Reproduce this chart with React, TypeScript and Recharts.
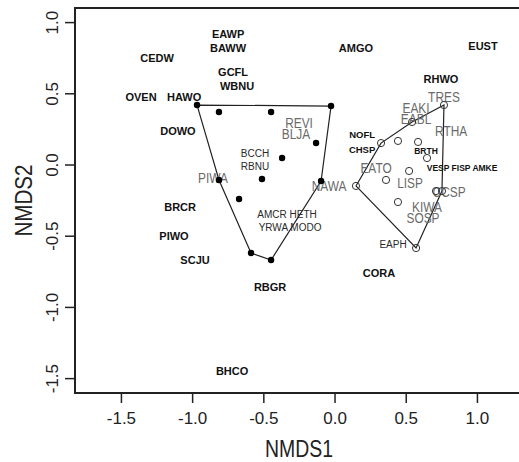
import React from 'react';
import { ScatterChart, Scatter, XAxis, YAxis, ReferenceArea } from 'recharts';

// Axis ticks
const xTicks = [-1.5, -1.0, -0.5, 0.0, 0.5, 1.0];
const yTicks = [-1.5, -1.0, -0.5, 0.0, 0.5, 1.0];
const xDomain = [-1.826, 1.32];
const yDomain = [-1.601, 1.1025];

// Filled points (group 1)
const filledX = [-0.969, -0.815, -0.449, -0.028, -0.133, -0.372, -0.513, -0.815, -0.098, -0.674, -0.590, -0.449];
const filledY = [0.421, 0.372, 0.372, 0.414, 0.154, 0.049, -0.098, -0.105, -0.112, -0.239, -0.618, -0.667];

// Open points (group 2)
const openX = [0.765, 0.541, 0.323, 0.442, 0.583, 0.646, 0.520, 0.358, 0.147, 0.709, 0.751, 0.442, 0.569];
const openY = [0.421, 0.302, 0.154, 0.169, 0.162, 0.049, -0.042, -0.105, -0.147, -0.183, -0.183, -0.260, -0.583];

// Convex hulls
const hullLeftX = [-0.969, -0.028, -0.098, -0.449, -0.590, -0.815, -0.969];
const hullLeftY = [0.421, 0.414, -0.112, -0.667, -0.618, -0.105, 0.421];
const hullRightX = [0.147, 0.323, 0.541, 0.765, 0.751, 0.569, 0.147];
const hullRightY = [-0.147, 0.154, 0.302, 0.421, -0.183, -0.583, -0.147];

// Species labels: bold black, large
const boldNames = ['EAWP', 'BAWW', 'CEDW', 'GCFL', 'WBNU', 'OVEN', 'HAWO', 'DOWO', 'BRCR', 'PIWO', 'SCJU', 'BHCO', 'RBGR', 'CORA', 'AMGO', 'EUST', 'RHWO'];
const boldX = [-0.751, -0.751, -1.250, -0.716, -0.688, -1.362, -1.060, -1.103, -1.088, -1.131, -0.983, -0.723, -0.456, 0.309, 0.147, 1.039, 0.744];
const boldY = [0.920, 0.822, 0.751, 0.653, 0.555, 0.478, 0.478, 0.239, -0.295, -0.499, -0.667, -1.447, -0.857, -0.758, 0.822, 0.836, 0.604];

// Species labels: bold black, medium
const medNames = ['NOFL', 'CHSP'];
const medX = [0.190, 0.190];
const medY = [0.211, 0.112];

// Species labels: bold black, small
const smallNames = ['BRTH', 'VESP FISP AMKE'];
const smallX = [0.639, 0.892];
const smallY = [0.098, -0.021];

// Species labels: regular dark
const plainNames = ['BCCH', 'RBNU', 'AMCR HETH', 'YRWA MODO', 'EAPH'];
const plainX = [-0.562, -0.562, -0.337, -0.316, 0.407];
const plainY = [0.084, -0.014, -0.351, -0.442, -0.555];

// Species labels: grey
const greyNames = ['TRES', 'EAKI', 'EABL', 'RTHA', 'EATO', 'LISP', 'CCSP', 'KIWA', 'SOSP', 'NAWA', 'REVI', 'BLJA', 'PIWA'];
const greyX = [0.765, 0.569, 0.569, 0.815, 0.288, 0.527, 0.801, 0.646, 0.618, -0.042, -0.253, -0.274, -0.857];
const greyY = [0.478, 0.400, 0.323, 0.239, -0.021, -0.126, -0.190, -0.295, -0.372, -0.147, 0.295, 0.218, -0.091];

const pts = (xs: number[], ys: number[]) => xs.map((x, i) => ({ x, y: ys[i] }));
const lbls = (names: string[], xs: number[], ys: number[]) => names.map((name, i) => ({ x: xs[i], y: ys[i], name }));

const FONT = '"Liberation Sans", Arial, sans-serif';

const makeText = (size: number, weight: string, color: string, scaleX = 1) => (p: any) => (
  <text
    transform={`translate(${p.cx},${p.cy}) scale(${scaleX},1)`}
    x={0}
    y={0}
    textAnchor="middle"
    dominantBaseline="central"
    fontFamily={FONT}
    fontSize={size}
    fontWeight={weight}
    fill={color}
  >
    {p.payload.name}
  </text>
);

const Empty = () => <g />;

const XTick = (p: any) => (
  <text x={p.x} y={p.y + 19} textAnchor="middle" fontFamily={FONT} fontSize={17} fill="#222">
    {Number(p.payload.value).toFixed(1)}
  </text>
);

const YTick = (p: any) => (
  <text
    x={p.x - 5}
    y={p.y}
    transform={`rotate(-90, ${p.x - 5}, ${p.y})`}
    textAnchor="middle"
    fontFamily={FONT}
    fontSize={17}
    fill="#222"
  >
    {Number(p.payload.value).toFixed(1)}
  </text>
);

const XTitle = (p: any) => {
  const vb = p.viewBox;
  return (
    <text x={vb.x + vb.width / 2} y={457} textAnchor="middle" fontFamily={FONT} fontSize={23} fill="#222" textLength={68} lengthAdjust="spacingAndGlyphs">
      NMDS1
    </text>
  );
};

const YTitle = (p: any) => {
  const vb = p.viewBox;
  const cy = vb.y + vb.height / 2;
  return (
    <text x={32} y={cy} transform={`rotate(-90, 32, ${cy})`} textAnchor="middle" fontFamily={FONT} fontSize={24} fill="#222" textLength={72} lengthAdjust="spacingAndGlyphs">
      NMDS2
    </text>
  );
};

export default function App() {
  return (
    <div style={{ position: 'absolute', left: 0, top: 0, background: '#fff' }}>
      <ScatterChart width={530} height={462} margin={{ top: 8, right: 7, bottom: 0, left: 0 }}>
        <XAxis
          type="number"
          dataKey="x"
          domain={xDomain}
          ticks={xTicks}
          allowDataOverflow
          axisLine={false}
          tickLine={{ stroke: '#222', strokeWidth: 1.5 }}
          tickSize={10}
          height={69}
          tick={<XTick />}
          label={<XTitle />}
        />
        <YAxis
          type="number"
          dataKey="y"
          domain={yDomain}
          ticks={yTicks}
          allowDataOverflow
          axisLine={false}
          tickLine={{ stroke: '#222', strokeWidth: 1.5 }}
          tickSize={10}
          width={75}
          tick={<YTick />}
          label={<YTitle />}
        />
        <ReferenceArea x1={xDomain[0]} x2={xDomain[1]} y1={yDomain[0]} y2={yDomain[1]} fill="none" stroke="#222" strokeWidth={2} fillOpacity={0} />
        <Scatter data={pts(hullLeftX, hullLeftY)} line={{ stroke: '#222', strokeWidth: 1.2 }} lineType="joint" shape={<Empty />} isAnimationActive={false} />
        <Scatter data={pts(hullRightX, hullRightY)} line={{ stroke: '#222', strokeWidth: 1.2 }} lineType="joint" shape={<Empty />} isAnimationActive={false} />
        <Scatter data={lbls(boldNames, boldX, boldY)} shape={makeText(11, 'bold', '#111')} isAnimationActive={false} />
        <Scatter data={lbls(medNames, medX, medY)} shape={makeText(9.5, 'bold', '#111')} isAnimationActive={false} />
        <Scatter data={lbls(smallNames, smallX, smallY)} shape={makeText(8.5, 'bold', '#111')} isAnimationActive={false} />
        <Scatter data={lbls(plainNames, plainX, plainY)} shape={makeText(10, 'normal', '#2a2a2a')} isAnimationActive={false} />
        <Scatter data={lbls(greyNames, greyX, greyY)} shape={makeText(14.5, 'normal', '#6a6a6a', 0.82)} isAnimationActive={false} />
        <Scatter
          data={pts(filledX, filledY)}
          shape={(p: any) => <circle cx={p.cx} cy={p.cy} r={3.2} fill="#000" />}
          isAnimationActive={false}
        />
        <Scatter
          data={pts(openX, openY)}
          shape={(p: any) => <circle cx={p.cx} cy={p.cy} r={3.6} fill="none" stroke="#333" strokeWidth={1} />}
          isAnimationActive={false}
        />
      </ScatterChart>
    </div>
  );
}
